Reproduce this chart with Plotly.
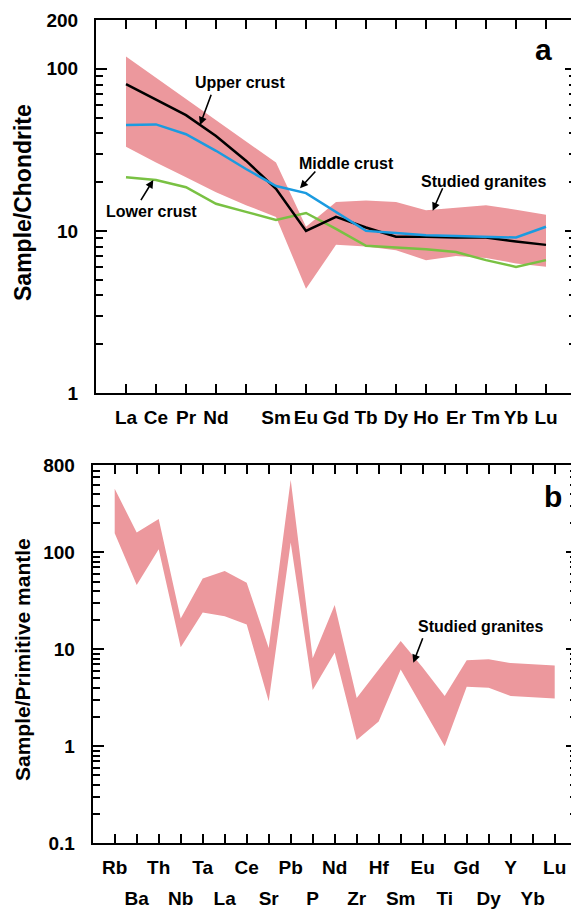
import numpy as np
import plotly.graph_objects as go

# page body margin offsets the figure by 8 px; compensate so the picture lands on target pixels
OX, OY = 8, 8
W, H = 579 - OX, 909 - OY

# ---------------- Panel a data (chondrite-normalised REE) ----------------
ree = ["La", "Ce", "Pr", "Nd", "Pm", "Sm", "Eu", "Gd", "Tb", "Dy", "Ho", "Er", "Tm", "Yb", "Lu"]
ree_labels = ["La", "Ce", "Pr", "Nd", "", "Sm", "Eu", "Gd", "Tb", "Dy", "Ho", "Er", "Tm", "Yb", "Lu"]
granite_ree_upper = [119, 88, 65.5, 48, 35.6, 26.4, 10.6, 15.1, 15.4, 15.1, 13.4, 13.9, 14.4, 13.5, 12.6]
granite_ree_lower = [33, 26.4, 21.4, 17.3, 14.4, 12.2, 4.4, 8.2, 8.0, 7.6, 6.6, 7.0, 6.8, 6.3, 6.0]
upper_crust = [80.5, 64.6, 51.8, 38.5, 27.1, 18.2, 10.0, 12.2, 10.5, 9.2, 9.2, 9.1, 9.1, 8.6, 8.2]
middle_crust = [45, 45.4, 39.5, 31.2, 24.1, 18.9, 17.1, 13.1, 10.0, 9.7, 9.4, 9.3, 9.2, 9.1, 10.6]
lower_crust = [21.4, 20.6, 18.6, 14.7, 13.1, 11.7, 12.9, 10.3, 8.1, 7.9, 7.7, 7.4, 6.6, 6.0, 6.6]
ree_yticks = [1, 10, 100, 200]

# ---------------- Panel b data (primitive-mantle-normalised spider) ----------------
spider = ["Rb", "Ba", "Th", "Nb", "Ta", "La", "Ce", "Sr", "Pb", "P", "Nd",
          "Zr", "Hf", "Sm", "Eu", "Ti", "Gd", "Dy", "Y", "Yb", "Lu"]
granite_pm_upper = [454, 161, 222, 20.8, 53.7, 64.4, 48.8, 10.3, 563, 8.1, 28.7,
                    3.15, 6.2, 12.2, 6.5, 3.3, 7.7, 7.9, 7.2, 7.0, 6.8]
granite_pm_lower = [158, 46, 108, 10.5, 24, 22, 18, 2.9, 127, 3.8, 9.2,
                    1.16, 1.8, 6.2, 2.5, 1.0, 4.1, 4.0, 3.3, 3.2, 3.1]
pm_yticks = [0.1, 1, 10, 100, 800]

BAND = "#ec989d"
BLUE = "#1b9be0"
GREEN = "#79c143"
FONT = "Liberation Sans"

xa = np.arange(1, len(ree) + 1)
xb = np.arange(1, len(spider) + 1)


def px(x):
    return (x - OX) / W


def py(y):
    return 1 - (y - OY) / H


fig = go.Figure()

# band a
fig.add_trace(go.Scatter(
    x=np.concatenate([xa, xa[::-1]]),
    y=np.concatenate([granite_ree_upper, granite_ree_lower[::-1]]),
    fill="toself", fillcolor=BAND, line=dict(width=0), mode="lines",
    xaxis="x", yaxis="y", showlegend=False, hoverinfo="skip"))
fig.add_trace(go.Scatter(x=xa, y=lower_crust, mode="lines", line=dict(color=GREEN, width=2.5),
                         xaxis="x", yaxis="y", showlegend=False))
fig.add_trace(go.Scatter(x=xa, y=upper_crust, mode="lines", line=dict(color="black", width=2.5),
                         xaxis="x", yaxis="y", showlegend=False))
fig.add_trace(go.Scatter(x=xa, y=middle_crust, mode="lines", line=dict(color=BLUE, width=2.5),
                         xaxis="x", yaxis="y", showlegend=False))

# band b
fig.add_trace(go.Scatter(
    x=np.concatenate([xb, xb[::-1]]),
    y=np.concatenate([granite_pm_upper, granite_pm_lower[::-1]]),
    fill="toself", fillcolor=BAND, line=dict(width=0), mode="lines",
    xaxis="x2", yaxis="y2", showlegend=False, hoverinfo="skip"))
# invisible trace for second label row axis
fig.add_trace(go.Scatter(x=xb[1::2], y=[None] * len(xb[1::2]), mode="markers",
                         xaxis="x3", yaxis="y2", showlegend=False, hoverinfo="skip"))

tickfont = dict(family=FONT, size=19, color="black", weight="bold")


def minor_vals(lo, hi):
    vals = []
    d = lo
    while d < hi:
        for k in range(2, 10):
            v = k * d
            if v < hi * 0.999:
                vals.append(v)
        d *= 10
    return vals


axis_common = dict(showline=True, linecolor="black", linewidth=2, mirror="ticks",
                   ticks="inside", tickwidth=2, tickcolor="black", automargin=False,
                   showgrid=False, zeroline=False, tickfont=tickfont)

fig.update_layout(
    width=W, height=H,
    margin=dict(l=0, r=0, t=0, b=0, pad=0, autoexpand=False),
    paper_bgcolor="white", plot_bgcolor="white",
    showlegend=False,
    xaxis=dict(axis_common, domain=[px(96), px(576)], range=[0, 16], anchor="y",
               tickmode="array", tickvals=list(xa), ticktext=ree_labels,
               ticklen=9, ticklabelstandoff=6),
    yaxis=dict(axis_common, domain=[py(393), py(20)], type="log",
               range=[0, np.log10(200)], anchor="x",
               tickmode="array", tickvals=ree_yticks, ticktext=[str(v) for v in ree_yticks],
               ticklen=11, ticklabelstandoff=12,
               minor=dict(ticks="inside", ticklen=7, tickwidth=2, tickcolor="black",
                          tickmode="array", tickvals=minor_vals(1, 200))),
    xaxis2=dict(axis_common, domain=[px(92.7), px(576.7)], range=[0, 22], anchor="y2",
                tickmode="array", tickvals=list(xb),
                ticktext=[s if i % 2 == 0 else "" for i, s in enumerate(spider)],
                ticklen=9, ticklabelstandoff=6),
    xaxis3=dict(overlaying="x2", anchor="y2", range=[0, 22], side="bottom",
                showline=False, ticks="", showgrid=False, zeroline=False, automargin=False,
                tickmode="array", tickvals=list(xb[1::2]),
                ticktext=[s for i, s in enumerate(spider) if i % 2 == 1],
                tickfont=tickfont, ticklabelstandoff=42),
    yaxis2=dict(axis_common, domain=[py(843), py(465)], type="log",
                range=[-1, np.log10(800)], anchor="x2",
                tickmode="array", tickvals=pm_yticks, ticktext=["0.1", "1", "10", "100", "800"],
                ticklen=11, ticklabelstandoff=12,
                minor=dict(ticks="inside", ticklen=7, tickwidth=2, tickcolor="black",
                           tickmode="array", tickvals=minor_vals(0.1, 800))),
)

ann_font = dict(family=FONT, size=16, color="black", weight="bold")
texts = [
    ("Upper crust", 240, 82),
    ("Middle crust", 346.7, 163.3),
    ("Studied granites", 483.3, 181.7),
    ("Lower crust", 151.7, 211.7),
    ("Studied granites", 480, 626.7),
]
for t, x, y in texts:
    fig.add_annotation(text=t, x=px(x), y=py(y), xref="paper", yref="paper",
                       showarrow=False, font=ann_font, xanchor="center", yanchor="middle")

for lab, x, y in [("a", 543.3, 50), ("b", 553.3, 496)]:
    fig.add_annotation(text=lab, x=px(x), y=py(y), xref="paper", yref="paper",
                       showarrow=False, font=dict(family=FONT, size=30, color="black", weight="bold"),
                       xanchor="center", yanchor="middle")

# arrows: (head_x, head_y, tail_dx, tail_dy)
arrows = [
    (200, 125, 11.7, -31.7),
    (300, 188.3, 16.7, -18.3),
    (432.7, 210.7, 10.6, -24),
    (153.3, 180, -13.3, 21.7),
    (413.3, 662.7, 10, -26),
]
for hx, hy, dx, dy in arrows:
    fig.add_annotation(text="", x=px(hx), y=py(hy), xref="paper", yref="paper",
                       showarrow=True, ax=dx, ay=dy, arrowhead=2, arrowsize=1,
                       arrowwidth=1.6, arrowcolor="black", standoff=0, startstandoff=0)

fig.add_annotation(text="Sample/Chondrite", x=px(23), y=py(203), xref="paper", yref="paper",
                   showarrow=False, textangle=-90,
                   font=dict(family=FONT, size=23, color="black", weight="bold"),
                   xanchor="center", yanchor="middle")
fig.add_annotation(text="Sample/Primitive mantle", x=px(22), y=py(660), xref="paper", yref="paper",
                   showarrow=False, textangle=-90,
                   font=dict(family=FONT, size=21, color="black", weight="bold"),
                   xanchor="center", yanchor="middle")

fig.write_html("out.html")
